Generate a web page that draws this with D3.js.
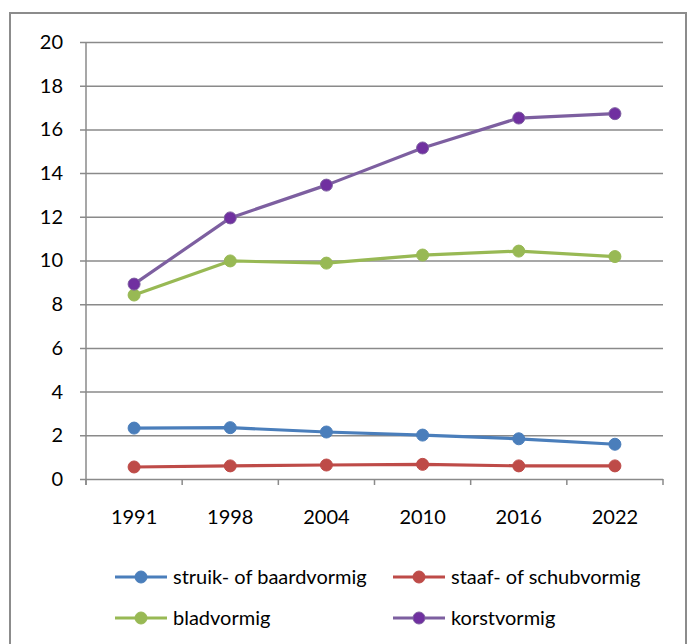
<!DOCTYPE html>
<html>
<head>
<meta charset="utf-8">
<script src="https://cdn.jsdelivr.net/npm/d3@7"></script>
<style>
  html, body { margin: 0; padding: 0; background: #fff; }
  svg { display: block; font-family: Lato, "Open Sans", sans-serif; }
</style>
</head>
<body>
<svg id="chart" width="689" height="644"></svg>
<script>
// Years on the horizontal axis
const years = ["1991", "1998", "2004", "2010", "2016", "2022"];
// Y-axis ticks
const yTicks = [0, 2, 4, 6, 8, 10, 12, 14, 16, 18, 20];

// Series values per growth form
const struik = [2.33, 2.35, 2.15, 2.01, 1.84, 1.59];
const staaf  = [0.55, 0.60, 0.64, 0.67, 0.60, 0.60];
const blad   = [8.42, 9.98, 9.88, 10.25, 10.43, 10.18];
const korst  = [8.92, 11.95, 13.45, 15.15, 16.52, 16.72];

const seriesNames = ["struik- of baardvormig", "staaf- of schubvormig", "bladvormig", "korstvormig"];
const seriesValues = [struik, staaf, blad, korst];
const lineColors = ["#4a7ebb", "#be4b48", "#98b954", "#7d5fa0"];
const markerColors = ["#4a7ebb", "#be4b48", "#98b954", "#7030a0"];

const svg = d3.select("#chart");
const plotLeft = 86, plotRight = 663, plotTop = 42, plotBottom = 479;
const fontSize = 20;

// Outer frame
svg.append("rect")
  .attr("x", 10).attr("y", 13)
  .attr("width", 676).attr("height", 660)
  .attr("fill", "none").attr("stroke", "#8c8c8c").attr("stroke-width", 2);

const x = d3.scaleBand().domain(years).range([plotLeft, plotRight]);
const y = d3.scaleLinear().domain([0, 20]).range([plotBottom, plotTop]);

const gridColor = "#8a8a8a";

// Horizontal gridlines with y-axis ticks and labels
const yAxis = d3.axisLeft(y).tickValues(yTicks).tickSize(-(plotRight - plotLeft));
const gy = svg.append("g").attr("transform", `translate(${plotLeft},0)`).call(yAxis);
gy.select(".domain").remove();
gy.selectAll(".tick line").attr("stroke", gridColor).attr("stroke-width", 1.5).attr("x1", -6);
gy.selectAll(".tick text").attr("fill", "#000").attr("font-size", fontSize)
  .attr("font-family", "Lato, sans-serif").attr("x", -23);

// Vertical axis line
svg.append("line")
  .attr("x1", plotLeft).attr("x2", plotLeft).attr("y1", plotTop).attr("y2", plotBottom + 6)
  .attr("stroke", gridColor).attr("stroke-width", 1.5);

// Category boundary ticks below the x axis
const bounds = years.map(d => x(d)).concat([plotRight]);
svg.append("g").selectAll("line").data(bounds).join("line")
  .attr("x1", d => d).attr("x2", d => d)
  .attr("y1", plotBottom).attr("y2", plotBottom + 6)
  .attr("stroke", gridColor).attr("stroke-width", 1.5);

// Year labels
svg.append("g").selectAll("text").data(years).join("text")
  .attr("x", d => x(d) + x.bandwidth() / 2)
  .attr("y", 524)
  .attr("text-anchor", "middle")
  .attr("font-size", fontSize)
  .attr("fill", "#000")
  .text(d => d);

// Series lines and markers
const line = d3.line()
  .x((d, i) => x(years[i]) + x.bandwidth() / 2)
  .y(d => y(d));

seriesValues.forEach((vals, s) => {
  const g = svg.append("g");
  g.append("path")
    .datum(vals)
    .attr("d", line)
    .attr("fill", "none")
    .attr("stroke", lineColors[s])
    .attr("stroke-width", 3.2)
    .attr("stroke-linejoin", "round");
  g.selectAll("circle").data(vals).join("circle")
    .attr("cx", (d, i) => x(years[i]) + x.bandwidth() / 2)
    .attr("cy", d => y(d))
    .attr("r", 6)
    .attr("fill", markerColors[s])
    .attr("stroke", lineColors[s])
    .attr("stroke-width", 1);
});

// Legend: two rows, two columns
const legendPos = [
  { x: 115, y: 577 },
  { x: 393, y: 577 },
  { x: 115, y: 618 },
  { x: 393, y: 618 }
];
seriesNames.forEach((name, s) => {
  const p = legendPos[s];
  const g = svg.append("g").attr("transform", `translate(${p.x},${p.y})`);
  g.append("line").attr("x1", 0).attr("x2", 52).attr("y1", 0).attr("y2", 0)
    .attr("stroke", lineColors[s]).attr("stroke-width", 3.2);
  g.append("circle").attr("cx", 26).attr("cy", 0).attr("r", 6)
    .attr("fill", markerColors[s]).attr("stroke", lineColors[s]).attr("stroke-width", 1);
  g.append("text").attr("x", 58).attr("y", 0).attr("dy", "0.35em")
    .attr("font-size", fontSize).attr("fill", "#000").text(name);
});
</script>
</body>
</html>
